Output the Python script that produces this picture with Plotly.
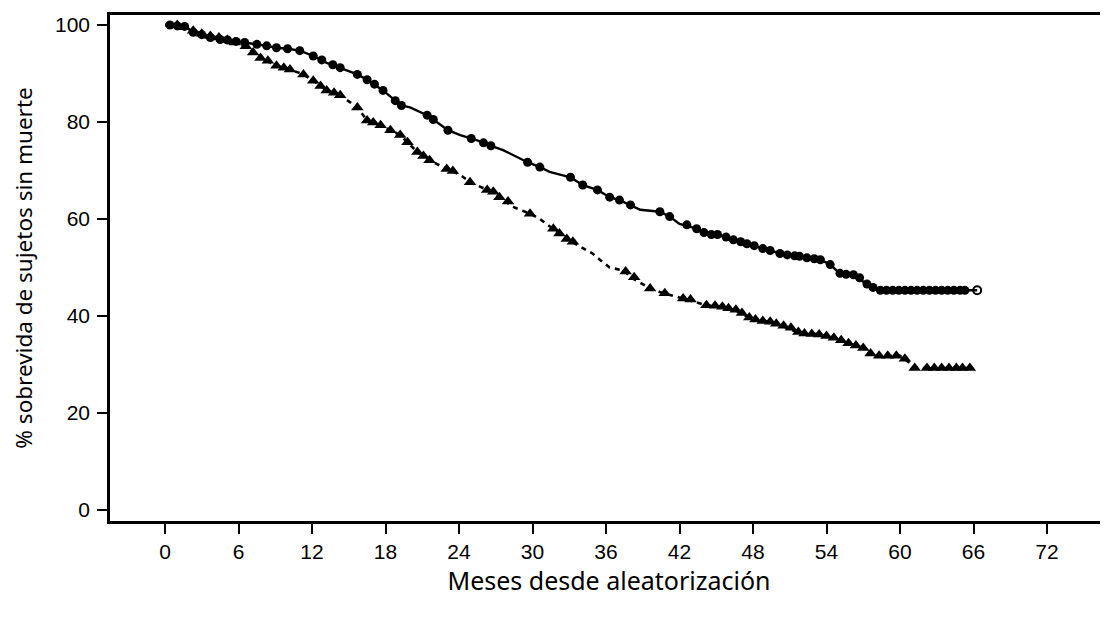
import plotly.graph_objects as go

# ---- Curve A (solid line, circles) : months, % survival ----
months_a = [0.0, 0.4, 1.6, 2.3, 3.7, 5.1, 6.1, 6.9, 8.3, 9.1, 10.0, 11.0, 12.1, 13.2, 14.3,
            15.7, 16.5, 17.8, 18.8, 19.3, 20.0, 21.4, 21.9, 23.1, 24.1, 25.5, 26.5, 27.6,
            28.4, 29.6, 30.6, 31.4, 33.1, 34.1, 35.3, 36.3, 37.1, 38.0, 38.8, 40.4, 41.2,
            42.0, 43.4, 44.2, 45.1, 46.4, 47.5, 48.8, 50.2, 51.8, 53.5, 54.3, 54.9, 55.9,
            56.2, 57.0, 57.6, 58.4, 66.3]
surv_a = [100.0, 100.0, 99.7, 98.5, 97.4, 96.9, 96.5, 96.3, 95.7, 95.3, 95.1, 94.7, 93.6, 92.2,
          91.2, 89.8, 88.7, 86.5, 84.4, 83.4, 83.0, 81.4, 80.5, 78.3, 77.3, 76.2, 75.2, 74.2,
          73.2, 71.7, 70.7, 69.7, 68.6, 67.0, 66.0, 64.5, 63.9, 62.9, 61.9, 61.5, 60.5,
          59.0, 58.0, 56.8, 56.8, 55.7, 54.9, 53.9, 52.9, 52.3, 51.6, 50.6, 49.2, 48.4,
          48.2, 47.1, 46.1, 45.3, 45.3]

# censoring marks, curve A
cens_a_x = [0.4, 1.0, 1.6, 2.3, 3.0, 3.7, 4.5, 5.1, 5.8, 6.5, 7.5, 8.3, 9.1, 10.0, 11.0, 12.1,
            12.8, 13.7, 14.3, 15.7, 16.5, 17.1, 17.8, 18.8, 19.3, 21.4, 21.9, 23.1, 25.0, 26.0,
            26.6, 29.6, 30.6, 33.1, 34.1, 35.3, 36.3, 37.1, 38.0, 40.4, 41.2, 42.6, 43.4, 44.0,
            44.6, 45.1, 45.8, 46.4, 47.0, 47.5, 48.1, 48.8, 49.4, 50.2, 50.8, 51.4, 51.8, 52.4,
            53.0, 53.5, 54.3, 55.1, 55.6, 56.2, 56.7, 57.3, 57.8, 58.4, 58.9, 59.4, 59.9, 60.4,
            60.9, 61.4, 61.9, 62.4, 62.9, 63.4, 63.9, 64.4, 64.9, 65.3]
cens_a_y = [100.0, 99.8, 99.7, 98.5, 98.0, 97.4, 97.0, 96.9, 96.6, 96.4, 96.0, 95.7, 95.3, 95.1,
            94.7, 93.6, 92.8, 91.8, 91.2, 89.8, 88.7, 87.8, 86.5, 84.4, 83.4, 81.4, 80.5, 78.3,
            76.6, 75.7, 75.1, 71.7, 70.7, 68.6, 67.0, 66.0, 64.5, 63.9, 62.9, 61.5, 60.5, 58.8,
            58.0, 57.2, 56.8, 56.8, 56.3, 55.7, 55.3, 54.9, 54.5, 53.9, 53.5, 52.9, 52.6, 52.4,
            52.3, 52.0, 51.8, 51.6, 50.6, 48.8, 48.6, 48.5, 47.9, 46.6, 45.9, 45.3, 45.3, 45.3,
            45.3, 45.3, 45.3, 45.3, 45.3, 45.3, 45.3, 45.3, 45.3, 45.3, 45.3, 45.3]
last_a_x = [66.3]
last_a_y = [45.3]

# ---- Curve B (dashed line, triangles) ----
months_b = [0.0, 1.0, 1.6, 2.3, 3.0, 3.7, 4.4, 5.1, 5.7, 6.8, 7.2, 7.8, 9.1, 10.2, 11.3, 12.1,
            13.2, 14.3, 14.9, 15.7, 16.5, 17.6, 18.4, 19.2, 19.8, 20.6, 21.6, 23.0, 24.1,
            24.9, 26.3, 27.3, 28.4, 29.8, 30.6, 31.7, 32.8, 33.9, 34.9, 35.5, 36.3, 37.4,
            38.2, 39.6, 40.7, 42.3, 43.1, 44.2, 45.3, 46.4, 47.8, 49.1, 50.4, 51.8, 53.2,
            54.5, 55.8, 57.0, 57.8, 60.0, 60.8, 61.4, 65.7]
surv_b = [100.0, 100.0, 99.5, 98.8, 98.2, 97.7, 97.4, 96.9, 96.4, 95.3, 94.3, 93.2, 91.6, 90.8,
          89.8, 88.5, 86.5, 85.5, 84.4, 83.0, 80.3, 79.3, 78.3, 77.3, 75.8, 73.8, 72.1, 70.3,
          69.1, 67.6, 66.0, 64.5, 62.5, 61.1, 60.0, 58.0, 55.9, 54.3, 52.9, 51.6, 50.0, 49.4,
          47.7, 45.7, 44.7, 43.6, 43.0, 42.2, 42.0, 41.4, 39.5, 38.9, 37.9, 36.5, 36.3, 35.5,
          34.4, 33.4, 31.8, 31.8, 30.3, 29.3, 29.3]

cens_b_x = [1.0, 1.6, 2.3, 3.0, 3.7, 4.4, 5.1, 5.7, 6.6, 7.2, 7.8, 8.4, 9.1, 9.7, 10.2, 11.3,
            12.1, 12.7, 13.2, 13.8, 14.3, 15.7, 16.5, 17.0, 17.6, 18.4, 19.2, 19.8, 20.6, 21.1,
            21.6, 23.0, 23.5, 24.9, 26.3, 26.8, 27.3, 28.0, 29.8, 31.7, 32.2, 32.8, 33.3, 37.6,
            38.3, 39.6, 40.8, 42.3, 42.9, 44.2, 44.9, 45.5, 46.0, 46.6, 47.1, 47.7, 48.2, 48.8,
            49.4, 49.9, 50.5, 51.1, 51.7, 52.2, 52.8, 53.4, 54.0, 54.6, 55.2, 55.8, 56.4, 57.0,
            57.6, 58.3, 59.0, 59.7, 60.4, 61.2, 62.2, 62.8, 63.4, 64.0, 64.6, 65.1, 65.7]
cens_b_y = [100.0, 99.5, 98.8, 98.2, 97.7, 97.4, 96.9, 96.4, 95.6, 94.3, 93.2, 92.6, 91.6, 91.2,
            90.8, 89.8, 88.5, 87.4, 86.5, 86.0, 85.5, 83.0, 80.3, 79.9, 79.3, 78.3, 77.3, 75.8,
            73.8, 73.0, 72.1, 70.3, 69.9, 67.6, 66.0, 65.6, 64.5, 63.6, 61.1, 58.0, 57.0, 55.9,
            55.3, 49.2, 48.0, 45.7, 44.7, 43.6, 43.4, 42.2, 42.1, 41.9, 41.6, 41.3, 40.6, 39.7,
            39.3, 39.0, 38.8, 38.4, 38.0, 37.6, 36.7, 36.4, 36.3, 36.2, 35.9, 35.5, 35.0, 34.4,
            33.9, 33.4, 32.3, 31.8, 31.8, 31.8, 31.2, 29.3, 29.3, 29.3, 29.3, 29.3, 29.3, 29.3, 29.3]

x_ticks = [0, 6, 12, 18, 24, 30, 36, 42, 48, 54, 60, 66, 72]
y_ticks = [0, 20, 40, 60, 80, 100]
x_title = "Meses desde aleatorización"
y_title = "% sobrevida de sujetos sin muerte"

fig = go.Figure()
fig.add_trace(go.Scatter(x=months_a, y=surv_a, mode="lines",
                         line=dict(color="black", width=2.4), showlegend=False))
fig.add_trace(go.Scatter(x=cens_a_x, y=cens_a_y, mode="markers",
                         marker=dict(symbol="circle", size=9, color="black"), showlegend=False))
fig.add_trace(go.Scatter(x=last_a_x, y=last_a_y, mode="markers",
                         marker=dict(symbol="circle-open", size=8, color="black",
                                     line=dict(width=2)), showlegend=False))
fig.add_trace(go.Scatter(x=months_b, y=surv_b, mode="lines",
                         line=dict(color="black", width=2.6, dash="5px,5px"), showlegend=False))
fig.add_trace(go.Scatter(x=cens_b_x, y=cens_b_y, mode="markers",
                         marker=dict(symbol="triangle-up", size=11, color="black"), showlegend=False))

fig.update_layout(
    width=1108, height=619,
    margin=dict(l=102, r=8, t=4, b=106),
    paper_bgcolor="white", plot_bgcolor="white",
    font=dict(family="Liberation Sans, Arial", color="black", size=21),
)
fig.update_xaxes(
    range=[-4.49, 76.98], tickvals=x_ticks, ticktext=[str(v) for v in x_ticks],
    showgrid=False, zeroline=False, showline=True, linecolor="black", linewidth=2.5,
    mirror=True, ticks="outside", ticklen=10, tickwidth=2, tickcolor="black",
    ticklabelstandoff=0,
    tickfont=dict(family="Liberation Sans, Arial", size=21),
    title=dict(text=x_title, font=dict(family="Noto Sans, Open Sans", size=25), standoff=11),
)
fig.update_yaxes(
    range=[-2.25, 102.05], tickvals=y_ticks, ticktext=[str(v) for v in y_ticks],
    showgrid=False, zeroline=False, showline=True, linecolor="black", linewidth=2.5,
    ticks="outside", ticklen=10, tickwidth=2, tickcolor="black",
    ticklabelstandoff=3,
    tickfont=dict(family="Liberation Sans, Arial", size=21),
    title=dict(text=y_title, font=dict(family="Noto Sans, Open Sans", size=22.5), standoff=26),
)

fig.write_html("out.html")
